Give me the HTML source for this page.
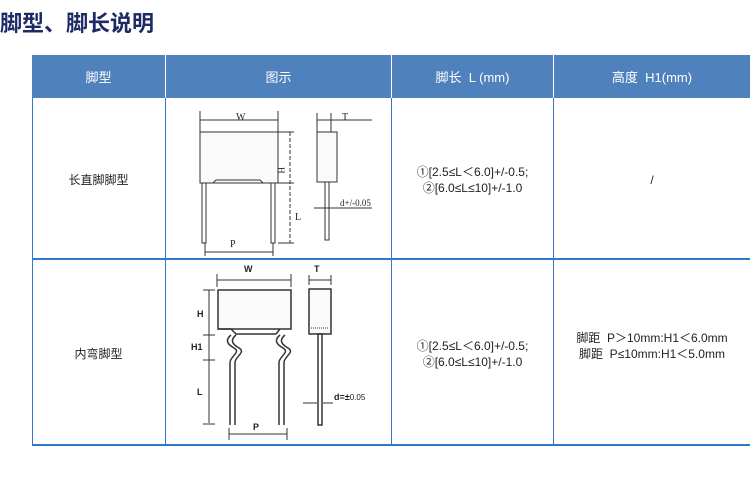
<!DOCTYPE html>
<html><head><meta charset="utf-8"><style>
body{margin:0;width:750px;height:477px;background:#fff;position:relative;overflow:hidden;font-family:"Liberation Sans","Noto Sans CJK SC",sans-serif;}
.t{position:absolute;left:0;top:6px;font-size:22px;font-weight:bold;color:#1c2a66;letter-spacing:0px;}
.a{position:absolute;}
.h{background:#4f81bd;color:#fff;font-size:13px;display:flex;align-items:center;justify-content:center;}
.vl{position:absolute;width:1px;background:#2f78c8;}
.hl{position:absolute;height:2px;background:#2f78c8;}
.c{position:absolute;font-size:12px;color:#222;text-align:center;line-height:16px;}
</style></head><body>
<div class="t">脚型、脚长说明</div>
<div class="a h" style="left:32px;top:55px;width:133px;height:43px">脚型</div>
<div class="a h" style="left:166px;top:55px;width:225px;height:43px">图示</div>
<div class="a h" style="left:392px;top:55px;width:161px;height:43px">脚长&nbsp; L (mm)</div>
<div class="a h" style="left:554px;top:55px;width:196px;height:43px">高度&nbsp; H1(mm)</div>
<div class="vl" style="left:165px;top:55px;height:43px;background:#fff"></div>
<div class="vl" style="left:391px;top:55px;height:43px;background:#fff"></div>
<div class="vl" style="left:553px;top:55px;height:43px;background:#fff"></div>
<div class="vl" style="left:32px;top:98px;height:347px"></div>
<div class="vl" style="left:165px;top:98px;height:347px"></div>
<div class="vl" style="left:391px;top:98px;height:347px"></div>
<div class="vl" style="left:553px;top:98px;height:347px"></div>
<div class="hl" style="left:32px;top:258px;width:718px"></div>
<div class="hl" style="left:32px;top:444px;width:718px"></div>
<div class="c" style="left:32px;top:172px;width:133px">长直脚脚型</div>
<div class="c" style="left:392px;top:164px;width:161px">①[2.5≤L＜6.0]+/-0.5;<br>②[6.0≤L≤10]+/-1.0</div>
<div class="c" style="left:554px;top:172px;width:196px">/</div>
<div class="c" style="left:32px;top:346px;width:133px">内弯脚型</div>
<div class="c" style="left:392px;top:338px;width:161px">①[2.5≤L＜6.0]+/-0.5;<br>②[6.0≤L≤10]+/-1.0</div>
<div class="c" style="left:554px;top:330px;width:196px">脚距&nbsp; P＞10mm:H1＜6.0mm<br>脚距&nbsp; P≤10mm:H1＜5.0mm</div>
<svg class="a" style="left:0;top:0" width="750" height="477" font-family="Liberation Serif,serif">
<g stroke="#333" fill="none" stroke-width="1">
<!-- first drawing -->
<line x1="200" y1="111" x2="200" y2="132"/><line x1="278" y1="111" x2="278" y2="132"/>
<line x1="200" y1="120" x2="278" y2="120"/>
<rect x="200" y="132" width="78" height="51" fill="#fafafa"/>
<path d="M200 183 H213 L216 180 H260 L263 183 H278" />
<rect x="202" y="183" width="4" height="60"/><rect x="271" y="183" width="4" height="60"/>
<line x1="290" y1="132" x2="290" y2="243" stroke-dasharray="4,2"/>
<line x1="278" y1="132" x2="294" y2="132"/><line x1="278" y1="183" x2="294" y2="183"/><line x1="278" y1="243" x2="294" y2="243"/>
<line x1="205" y1="252" x2="273" y2="252"/><line x1="205" y1="243" x2="205" y2="256"/><line x1="273" y1="243" x2="273" y2="256"/>
<rect x="317" y="132" width="20" height="50" fill="#fafafa"/>
<rect x="325" y="182" width="4" height="58"/>
<line x1="317" y1="120" x2="372" y2="120"/><line x1="317" y1="113" x2="317" y2="132"/><line x1="331" y1="113" x2="331" y2="132"/>
<line x1="314" y1="208" x2="372" y2="208"/>
<!-- second drawing -->
<line x1="217" y1="280" x2="291" y2="280"/><line x1="217" y1="274" x2="217" y2="287"/><line x1="291" y1="274" x2="291" y2="287"/>
<rect x="218" y="290" width="73" height="39" fill="#fafafa" stroke-width="1.5"/>
<path d="M218 329 H231 L236 334 H276 L280 329" stroke-width="1.5"/>
<line x1="209" y1="290" x2="209" y2="423"/>
<line x1="203" y1="290" x2="215" y2="290"/><line x1="203" y1="335" x2="215" y2="335"/><line x1="203" y1="360" x2="215" y2="360"/><line x1="203" y1="424" x2="215" y2="424"/>
<path d="M231 335 c-6 5 -4 9 3 13 c7 4 -3 8 -4 14 V425 M236 335 c-6 5 -4 9 3 13 c7 4 -3 8 -4 14 V425" stroke-width="1.5"/>
<path d="M280 335 c-6 5 -4 9 3 13 c7 4 -3 8 -4 14 V425 M285 335 c-6 5 -4 9 3 13 c7 4 -3 8 -4 14 V425" stroke-width="1.5"/>
<line x1="229" y1="434" x2="287" y2="434"/><line x1="229" y1="428" x2="229" y2="440"/><line x1="287" y1="428" x2="287" y2="440"/>
<rect x="309" y="289" width="22" height="45" fill="#fafafa" stroke-width="1.5"/>
<line x1="311" y1="328" x2="329" y2="328" stroke-dasharray="1,1"/>
<rect x="318" y="334" width="4" height="91" stroke-width="1.5"/>
<line x1="309" y1="280" x2="331" y2="280"/><line x1="309" y1="275" x2="309" y2="285"/><line x1="331" y1="275" x2="331" y2="285"/>
<line x1="303" y1="403" x2="317" y2="403"/><line x1="323" y1="403" x2="333" y2="403"/>
</g>
<g font-size="10" fill="#222">
<text x="236" y="120">W</text><text x="342" y="120">T</text>
<text x="281" y="176" font-size="9" transform="rotate(90 284 170)">H</text>
<text x="295" y="220">L</text><text x="230" y="247">P</text>
<text x="340" y="206" font-size="9">d+/-0.05</text>
</g>
<g font-family="Liberation Sans,sans-serif" font-size="9" font-weight="bold" fill="#222">
<text x="244" y="272">W</text><text x="314" y="272">T</text>
<text x="197" y="317">H</text><text x="191" y="350">H1</text><text x="197" y="395">L</text>
<text x="253" y="430">P</text>
<text x="334" y="400">d=±<tspan font-weight="normal" font-size="8">0.05</tspan></text>
</g>
</svg>
</body></html>
